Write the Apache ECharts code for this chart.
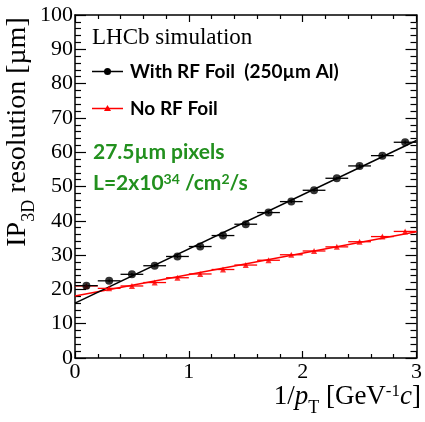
<!DOCTYPE html>
<html>
<head>
<meta charset="utf-8">
<script src="https://cdn.jsdelivr.net/npm/echarts@6/dist/echarts.min.js"></script>
<style>
  html, body { margin: 0; padding: 0; background: #fff; }
  #chart { width: 425px; height: 422px; }
</style>
</head>
<body>
<div id="chart"></div>
<script>
// bin centres in 1/pT, half width of each bin
const binCentres = [0.1, 0.3, 0.5, 0.7, 0.9, 1.1, 1.3, 1.5, 1.7, 1.9, 2.1, 2.3, 2.5, 2.7, 2.9];
const binHalfWidth = 0.1;
// IP3D resolution [um]
const withFoil = [21.1, 22.5, 24.4, 26.9, 29.6, 32.5, 35.7, 39.0, 42.4, 45.6, 48.9, 52.4, 56.0, 59.0, 62.9];
const withFoilErr = [0.4, 0.4, 0.4, 0.4, 0.4, 0.4, 0.4, 0.4, 0.4, 0.4, 0.4, 0.4, 0.5, 0.5, 0.5];
const noFoil = [21.0, 20.3, 21.0, 22.0, 23.4, 24.5, 25.8, 27.1, 28.5, 30.1, 31.2, 32.4, 33.9, 35.4, 36.9];
const noFoilErr = [0.3, 0.3, 0.3, 0.3, 0.3, 0.3, 0.3, 0.3, 0.3, 0.3, 0.3, 0.3, 0.3, 0.3, 0.3];
// straight-line fits (x, y) at the ends of the range
const withFoilFit = [[0, 16.0], [3, 63.4]];
const noFoilFit = [[0, 18.1], [3, 36.8]];
// axis ranges
const xRange = [0, 3];
const yRange = [0, 100];

const serif = '"Liberation Serif", "DejaVu Serif", serif';
const sans = 'Lato, "Open Sans", sans-serif';
const green = '#22901e';

function errRows(ys, errs) {
  return binCentres.map((x, i) => [x, ys[i], binHalfWidth, errs[i]]);
}
function points(ys) {
  return binCentres.map((x, i) => [x, ys[i]]);
}
function errorBars(color) {
  return function (params, api) {
    const x = api.value(0), y = api.value(1), ex = api.value(2), ey = api.value(3);
    const l = api.coord([x - ex, y]), r = api.coord([x + ex, y]);
    const b = api.coord([x, y - ey]), t = api.coord([x, y + ey]);
    return {
      type: 'group',
      children: [
        { type: 'line', shape: { x1: l[0], y1: l[1], x2: r[0], y2: r[1] }, style: { stroke: color, lineWidth: 1.3 } },
        { type: 'line', shape: { x1: b[0], y1: b[1], x2: t[0], y2: t[1] }, style: { stroke: color, lineWidth: 1.3 } }
      ]
    };
  };
}

const chart = echarts.init(document.getElementById('chart'));

const frameAxisX = {
  type: 'value', min: xRange[0], max: xRange[1], interval: 1,
  axisLine: { show: true, onZero: false, lineStyle: { color: '#000', width: 1.5 } },
  axisTick: { show: true, inside: true, length: 7, lineStyle: { color: '#000', width: 1.2 } },
  minorTick: { show: true, splitNumber: 5, length: 4, lineStyle: { color: '#000', width: 1.2 } },
  splitLine: { show: false }
};
const frameAxisY = {
  type: 'value', min: yRange[0], max: yRange[1], interval: 10,
  axisLine: { show: true, onZero: false, lineStyle: { color: '#000', width: 1.5 } },
  axisTick: { show: true, inside: true, length: 11, lineStyle: { color: '#000', width: 1.2 } },
  minorTick: { show: true, splitNumber: 5, length: 6, lineStyle: { color: '#000', width: 1.2 } },
  splitLine: { show: false }
};

let option = {
  animation: false,
  grid: { left: 75, right: 4, top: 15, bottom: 64 },
  xAxis: [
    Object.assign({}, frameAxisX, {
      position: 'bottom',
      axisLabel: { color: '#000', fontFamily: serif, fontSize: 22, margin: 3 }
    }),
    Object.assign({}, frameAxisX, { position: 'top', axisLabel: { show: false } })
  ],
  yAxis: [
    Object.assign({}, frameAxisY, {
      position: 'left',
      axisLabel: { color: '#000', fontFamily: serif, fontSize: 22, margin: 2 }
    }),
    Object.assign({}, frameAxisY, { position: 'right', axisLabel: { show: false } })
  ],
  series: [
    {
      type: 'line', data: noFoilFit, showSymbol: false, z: 2,
      lineStyle: { color: '#ff0000', width: 1.6 }
    },
    {
      type: 'line', data: withFoilFit, showSymbol: false, z: 2,
      lineStyle: { color: '#000', width: 1.6 }
    },
    {
      type: 'custom', data: errRows(noFoil, noFoilErr), z: 3,
      renderItem: errorBars('#ff0000')
    },
    {
      type: 'custom', data: errRows(withFoil, withFoilErr), z: 3,
      renderItem: errorBars('#000')
    },
    {
      type: 'scatter', data: points(noFoil), symbol: 'triangle', symbolSize: 6, z: 4,
      itemStyle: { color: '#ff0000' }
    },
    {
      type: 'scatter', data: points(withFoil), symbol: 'circle', symbolSize: 8, z: 4,
      itemStyle: { color: '#000' }
    }
  ],
  graphic: [
    // y axis title
    {
      type: 'text', x: 21, y: 132, rotation: Math.PI / 2,
      style: {
        text: '{m|IP}{s|3D}{m| resolution [µm]}',
        align: 'center', verticalAlign: 'middle',
        rich: {
          m: { fontFamily: serif, fontSize: 28, fill: '#000', verticalAlign: 'bottom', padding: [0, 0, 7, 0] },
          s: { fontFamily: serif, fontSize: 18, fill: '#000', verticalAlign: 'bottom' }
        }
      }
    },
    // x axis title
    {
      type: 'text', x: 421, y: 400,
      style: {
        text: '{m|1/}{i|p}{s|T}{m| [GeV}{u|-1}{i|c}{m|]}',
        align: 'right', verticalAlign: 'middle',
        rich: {
          m: { fontFamily: serif, fontSize: 27, fill: '#000', verticalAlign: 'bottom', padding: [0, 0, 7, 0] },
          i: { fontFamily: serif, fontStyle: 'italic', fontSize: 27, fill: '#000', verticalAlign: 'bottom', padding: [0, 0, 7, 0] },
          s: { fontFamily: serif, fontSize: 18, fill: '#000', verticalAlign: 'bottom' },
          u: { fontFamily: serif, fontSize: 17, fill: '#000', verticalAlign: 'top' }
        }
      }
    },
    {
      type: 'text', x: 92, y: 38,
      style: { text: 'LHCb simulation', fontFamily: serif, fontSize: 23, fill: '#000', verticalAlign: 'middle' }
    },
    // legend
    { type: 'line', shape: { x1: 92, y1: 71.5, x2: 123, y2: 71.5 }, style: { stroke: '#000', lineWidth: 1.5 } },
    { type: 'circle', shape: { cx: 107.5, cy: 71.5, r: 3.5 }, style: { fill: '#000' } },
    {
      type: 'text', x: 130, y: 72,
      style: { text: 'With RF Foil  (250µm Al)', fontFamily: sans, fontWeight: 'bold', fontSize: 19, fill: '#000', verticalAlign: 'middle' }
    },
    { type: 'line', shape: { x1: 92, y1: 108.5, x2: 123, y2: 108.5 }, style: { stroke: '#ff0000', lineWidth: 1.5 } },
    { type: 'polygon', shape: { points: [[107.5, 105], [111, 111], [104, 111]] }, style: { fill: '#ff0000' } },
    {
      type: 'text', x: 130, y: 109,
      style: { text: 'No RF Foil', fontFamily: sans, fontWeight: 'bold', fontSize: 19, fill: '#000', verticalAlign: 'middle' }
    },
    // green annotation
    {
      type: 'text', x: 93, y: 152,
      style: { text: '27.5µm pixels', fontFamily: sans, fontWeight: 'bold', fontSize: 21, fill: green, verticalAlign: 'middle' }
    },
    {
      type: 'text', x: 93, y: 183,
      style: {
        text: '{m|L=2x10}{u|34}{m| /cm}{u|2}{m|/s}',
        verticalAlign: 'middle',
        rich: {
          m: { fontFamily: sans, fontWeight: 'bold', fontSize: 21, fill: green, verticalAlign: 'bottom' },
          u: { fontFamily: sans, fontWeight: 'bold', fontSize: 14, fill: green, verticalAlign: 'top' }
        }
      }
    }
  ]
};

chart.setOption(option);
window.addEventListener('resize', function () {
  chart.resize();
});
</script>
</body>
</html>
